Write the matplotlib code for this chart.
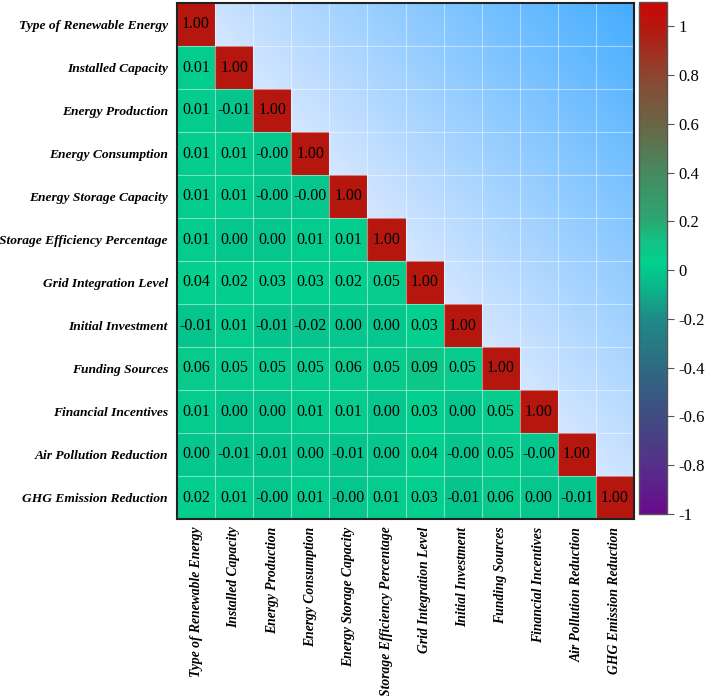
import numpy as np
import matplotlib
matplotlib.use("Agg")
import matplotlib.pyplot as plt
from matplotlib.colors import LinearSegmentedColormap, Normalize
import matplotlib.colorbar as mcolorbar

labels = ["Type of Renewable Energy", "Installed Capacity", "Energy Production",
          "Energy Consumption", "Energy Storage Capacity", "Storage Efficiency Percentage",
          "Grid Integration Level", "Initial Investment", "Funding Sources",
          "Financial Incentives", "Air Pollution Reduction", "GHG Emission Reduction"]

rows = [
    [1.00],
    [0.01, 1.00],
    [0.01, -0.01, 1.00],
    [0.01, 0.01, -0.002, 1.00],
    [0.01, 0.01, -0.002, -0.002, 1.00],
    [0.01, 0.00, 0.00, 0.01, 0.01, 1.00],
    [0.04, 0.02, 0.03, 0.03, 0.02, 0.05, 1.00],
    [-0.01, 0.01, -0.01, -0.02, 0.00, 0.00, 0.03, 1.00],
    [0.06, 0.05, 0.05, 0.05, 0.06, 0.05, 0.09, 0.05, 1.00],
    [0.01, 0.00, 0.00, 0.01, 0.01, 0.00, 0.03, 0.00, 0.05, 1.00],
    [0.00, -0.01, -0.01, 0.00, -0.01, 0.00, 0.04, -0.002, 0.05, -0.002, 1.00],
    [0.02, 0.01, -0.002, 0.01, -0.002, 0.01, 0.03, -0.01, 0.06, 0.00, -0.01, 1.00],
]

cbar_ticks = [1, 0.8, 0.6, 0.4, 0.2, 0, -0.2, -0.4, -0.6, -0.8, -1]

n = len(labels)
mat = np.full((n, n), np.nan)
for i, r in enumerate(rows):
    mat[i, :len(r)] = r

vmin, vmax = -1.0, 1.1
stops = [(-1.0, "#6a0a8c"), (-0.8, "#55308a"), (-0.6, "#404c82"), (-0.4, "#2e6a82"),
         (-0.2, "#1f8a86"), (-0.08, "#0bb48a"), (0.03, "#03d08e"), (0.12, "#12c286"),
         (0.2, "#2aa872"), (0.4, "#468a60"), (0.6, "#6a6645"), (0.8, "#8c4632"),
         (1.0, "#b5170f"), (1.1, "#cc0606")]
cmap = LinearSegmentedColormap.from_list(
    "custom", [((v - vmin) / (vmax - vmin), c) for v, c in stops])
norm = Normalize(vmin=vmin, vmax=vmax)

plt.rcParams['font.family'] = ['Liberation Serif', 'DejaVu Serif']

fig = plt.figure(figsize=(7.07, 6.96), dpi=100)
ax = fig.add_axes([177/707, 1-519/696, 457/707, 516/696])

# gradient background
res = 400
xx, yy = np.meshgrid(np.linspace(0, 1, res), np.linspace(0, 1, res))
t = np.clip(xx - yy, 0, 1)
light = np.array([0xd6, 0xe7, 0xff]) / 255
dark = np.array([0x45, 0xad, 0xff]) / 255
grad = light[None, None, :] * (1 - t[..., None]) + dark[None, None, :] * t[..., None]
ax.imshow(grad, extent=(0, n, n, 0), zorder=0, aspect='auto', interpolation='bilinear')

masked = np.ma.masked_invalid(mat)
ax.pcolormesh(np.arange(n + 1), np.arange(n + 1), masked, cmap=cmap, norm=norm, zorder=1)

for k in range(1, n):
    ax.axhline(k, color='white', alpha=0.45, lw=0.8, zorder=2)
    ax.axvline(k, color='white', alpha=0.45, lw=0.8, zorder=2)

for i in range(n):
    for j in range(i + 1):
        ax.text(j + 0.5, i + 0.5, f"{mat[i, j]:.2f}", ha='center', va='center',
                fontsize=11.5, color='black', zorder=3)

ax.set_xlim(0, n)
ax.set_ylim(n, 0)
ax.set_xticks(np.arange(n) + 0.5)
ax.set_yticks(np.arange(n) + 0.5)
ax.set_xticklabels(labels, rotation=90, fontweight='bold', fontstyle='italic', fontsize=9.8)
ax.set_yticklabels(labels, fontweight='bold', fontstyle='italic', fontsize=9.7)
ax.tick_params(axis='y', length=0, pad=6.5)
ax.tick_params(axis='x', length=0, pad=5.5)
for s in ax.spines.values():
    s.set_linewidth(1.5)
    s.set_color('#222222')

cax = fig.add_axes([639/707, 1-514/696, 28/707, 512/696])
cb = mcolorbar.ColorbarBase(cax, cmap=cmap, norm=norm, orientation='vertical')
cb.set_ticks(cbar_ticks)
cb.set_ticklabels([f"{v:g}" for v in cbar_ticks])
cax.tick_params(labelsize=12, length=5, width=0.8, color='#555555')
cb.outline.set_edgecolor('#555555')
cb.outline.set_linewidth(1.0)

fig.savefig("out.png", dpi=100)
